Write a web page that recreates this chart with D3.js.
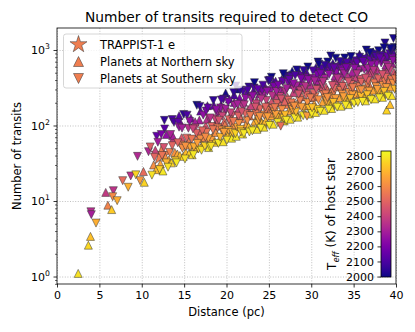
<!DOCTYPE html>
<html>
<head>
<meta charset="utf-8">
<script src="https://cdn.jsdelivr.net/npm/d3@7"></script>
<style>
body { margin: 0; background: #fff; }
text { font-family: "DejaVu Sans", sans-serif; fill: #000; }
</style>
</head>
<body>
<script>
// [distance (pc), number of transits, Teff of host star (K)]
var trappist = [[12.35, 41, 2566]];

var northern = [
  [2.5,1.1,2790],[3.7,2.6,2770],[3.95,3.4,2720],[5.75,13,2380],[6.0,8.8,2580],[6.45,7.7,2740],[10.2,24.6,2520],[10.3,17.7,2760],
  [11.4,30,2610],[11.7,26,2710],[11.6,47,2410],
  [12.2,31,2660],[12.5,25,2800],[12.8,38,2610],[12.9,76,2250],
  [13.2,35,2690],[13.5,32,2760],[13.7,66,2400],[13.9,44,2620],[13.65,73,2300],[14.4,135,2120],
  [14.2,42,2670],[14.5,40,2720],[14.7,69,2460],[14.9,39,2760],
  [15.2,44,2710],[15.4,55,2620],[15.6,43,2750],[15.8,125,2200],[15.95,41,2780],
  [16.2,50,2700],[16.4,56,2650],[16.6,72,2560],[16.8,118,2300],[16.95,155,2150],
  [17.15,56,2720],[17.35,69,2600],[17.55,99,2450],[17.75,183,2110],[17.9,51,2800],
  [18.15,63,2710],[18.35,71,2650],[18.55,60,2750],[18.75,81,2610],[18.5,185,2150],[18.9,114,2460],
  [19.15,64,2760],[19.35,187,2200],[19.55,99,2550],[19.75,113,2500],[19.6,61,2790],[19.9,269,2010],
  [20.15,77,2710],[20.35,224,2150],[20.55,74,2750],[20.75,99,2610],[20.6,68,2800],[20.9,201,2250],
  [21.15,72,2800],[21.35,160,2400],[21.55,232,2200],[21.75,123,2560],[21.9,77,2790],[21.2,305,2000],
  [22.15,93,2700],[22.35,105,2650],[22.55,163,2450],[22.75,91,2750],[22.4,271,2150],[22.9,183,2400],[22.6,97,2720],
  [23.15,94,2760],[23.35,114,2670],[23.55,214,2350],[23.75,130,2620],[23.6,89,2790],[23.9,263,2250],
  [24.15,111,2710],[24.35,104,2750],[24.55,326,2150],[24.75,196,2450],[24.4,95,2790],[24.9,180,2500],[24.6,115,2700],
  [25.15,111,2760],[25.35,135,2660],[25.55,379,2100],[25.75,255,2350],[25.5,104,2790],[25.9,235,2400],[25.2,146,2600],
  [26.15,130,2700],[26.35,146,2650],[26.5,407,2090],[26.65,227,2450],[26.95,189,2560],[26.8,115,2790],[26.2,199,2500],
  [27.15,129,2760],[27.35,157,2660],[27.55,349,2250],[27.75,524,2000],[27.5,121,2790],[27.9,272,2400],[27.2,237,2450],
  [28.15,150,2710],[28.35,141,2750],[28.55,513,2050],[28.75,240,2500],[28.4,129,2790],[28.9,384,2250],[28.6,315,2350],
  [29.15,149,2760],[29.35,181,2660],[29.45,503,2100],[29.65,281,2450],[29.95,233,2550],[29.8,142,2790],[29.7,185,2650],
  [30.15,173,2700],[30.35,193,2650],[30.55,588,2050],[30.75,364,2350],[30.5,149,2790],[30.9,334,2400],[30.6,393,2300],
  [31.15,170,2760],[31.35,206,2660],[31.55,458,2250],[31.75,323,2450],[31.5,159,2790],[31.9,295,2500],[31.2,525,2150],
  [32.15,196,2700],[32.35,183,2750],[32.55,668,2050],[32.75,413,2350],[32.4,168,2790],[32.9,379,2400],[32.8,452,2300],
  [33.15,192,2760],[33.35,234,2660],[33.55,473,2300],[33.75,364,2450],[33.5,180,2790],[33.9,333,2500],[33.2,639,2100],
  [34.15,222,2700],[34.35,207,2750],[34.55,752,2050],[34.75,465,2350],[34.4,189,2790],[34.9,426,2400],[34.8,509,2300],
  [35.15,216,2760],[35.35,263,2660],[35.55,581,2250],[35.7,875,2030],[35.95,775,2060],[35.3,436,2400],[35.8,269,2650],
  [36.15,248,2700],[36.35,231,2750],[36.55,842,2050],[36.75,520,2350],[36.4,212,2790],[36.9,477,2400],[36.8,623,2250],
  [37.15,242,2760],[37.35,293,2660],[37.55,592,2300],[37.75,456,2450],[37.5,225,2790],[37.9,416,2500],[37.2,747,2150],
  [38.15,276,2700],[38.35,257,2750],[38.55,936,2050],[38.75,578,2350],[38.4,236,2790],[38.9,530,2400],[38.8,632,2300],[38.9,160,2760],
  [39.15,268,2760],[39.35,325,2660],[39.55,657,2300],[39.75,506,2450],[39.5,250,2790],[39.9,462,2500],[39.2,830,2150],[39.3,190,2720],
  [14.6,107,2200],[15.5,62,2560],[16.3,112,2300],[17.0,84,2500],[17.7,121,2350],[18.6,100,2500],[19.2,155,2300],[19.8,102,2560],
  [20.4,133,2450],[20.9,253,2100],[21.5,134,2500],[22.0,203,2300],[22.7,134,2560],[23.2,291,2150],[23.7,180,2450],[24.3,271,2250],
  [24.8,160,2560],[25.3,205,2450],[25.8,386,2100],[26.4,293,2300],[26.9,210,2500],[27.4,473,2050],[27.9,202,2560],[28.4,339,2300],
  [28.9,242,2500],[29.3,463,2150],[29.9,344,2350],[30.3,239,2560],[30.8,437,2250],[31.3,314,2450],[31.8,586,2100],[32.3,271,2560],
  [32.9,541,2200],[33.4,324,2500],[33.9,724,2050],[34.3,453,2350],[34.8,315,2560],[35.3,673,2150],[35.8,410,2450],[36.3,606,2250],
  [36.8,352,2560],[37.3,946,2000],[37.8,550,2350],[38.3,425,2500],[38.7,809,2150],[39.2,400,2560],[39.7,914,2100]
];

var southern = [
  [4.0,7.2,2340],[4.05,6.6,2300],[4.6,5.1,2680],[6.65,13.7,2360],[6.57,11.4,2600],[7.1,10.1,2680],[7.75,18.6,2520],[8.4,15.2,2690],
  [8.7,21.5,2350],[9.3,22.2,2760],[9.8,18.6,2640],[9.5,39,2330],[10.8,45,2320],[11.0,52,2480],
  [11.76,72,2150],[12.7,90,2130],[12.67,117,2050],[13.6,120,2100],
  [11.2,22,2790],[11.5,38,2500],[11.9,60,2290],
  [12.1,26,2750],[12.4,40,2540],[12.6,51,2450],[12.9,32,2700],[12.3,76,2200],
  [13.1,28,2790],[13.3,44,2570],[13.6,54,2500],[13.8,110,2090],[13.4,76,2310],[13.95,34,2740],
  [14.1,32,2800],[14.3,110,2140],[14.6,55,2550],[14.8,50,2610],[14.4,95,2260],[14.95,140,2040],
  [15.1,36,2790],[15.3,68,2500],[15.5,92,2350],[15.7,52,2660],[15.9,66,2550],[15.35,137,2100],
  [16.1,41,2800],[16.3,93,2400],[16.5,185,2000],[16.7,49,2740],[16.9,66,2610],[16.45,79,2490],[16.15,52,2680],
  [17.05,47,2790],[17.25,137,2250],[17.45,53,2760],[17.65,81,2540],[17.85,67,2660],[17.95,124,2340],[17.6,155,2190],
  [18.05,52,2800],[18.25,97,2500],[18.45,214,2050],[18.65,122,2400],[18.85,149,2300],[18.95,93,2560],[18.2,53,2790],
  [19.05,58,2800],[19.25,70,2700],[19.45,87,2620],[19.65,224,2100],[19.85,152,2350],[19.95,84,2670],[19.3,171,2260],[19.5,133,2410],
  [20.05,64,2790],[20.25,86,2660],[20.45,109,2550],[20.65,136,2450],[20.85,274,2050],[20.95,184,2300],[20.3,119,2500],[20.7,81,2700],
  [21.05,78,2760],[21.1,334,2080],[21.25,95,2660],[21.45,106,2620],[21.65,89,2710],[21.85,184,2350],[21.95,280,2100],[21.4,133,2490],[21.7,82,2740],
  [22.05,78,2800],[22.25,228,2250],[22.45,116,2610],[22.65,323,2050],[22.85,136,2550],[22.95,221,2300],[22.7,82,2790],[22.2,143,2500],
  [23.05,85,2800],[23.25,314,2100],[23.45,143,2550],[23.65,106,2700],[23.85,285,2200],[23.95,166,2500],[23.3,369,2000],[23.5,193,2410],[23.8,119,2660],
  [24.05,92,2800],[24.25,247,2300],[24.45,138,2610],[24.65,158,2560],[24.85,130,2650],[24.95,392,2050],[24.7,214,2400],[24.2,293,2200],
  [25.05,100,2800],[25.25,293,2250],[25.45,168,2550],[25.65,151,2620],[25.85,127,2710],[25.95,195,2500],[25.3,435,2000],[25.6,328,2200],[25.8,140,2650],
  [26.05,109,2800],[26.25,289,2300],[26.4,98,2530],[26.55,162,2610],[26.75,125,2750],[26.85,454,2050],[26.3,242,2400],[26.6,382,2150],[26.9,138,2710],
  [27.05,117,2800],[27.25,371,2200],[27.45,196,2550],[27.65,176,2620],[27.85,147,2700],[27.95,301,2350],[27.3,216,2500],[27.6,442,2100],[27.8,162,2650],
  [28.05,126,2800],[28.25,335,2300],[28.45,186,2610],[28.65,213,2560],[28.85,175,2650],[28.95,453,2150],[28.7,288,2400],[28.2,151,2700],[28.3,545,2010],
  [29.05,135,2800],[29.25,428,2200],[29.5,133,2640],[29.55,201,2620],[29.75,168,2710],[29.85,374,2300],[29.4,251,2500],[29.6,596,2000],[29.2,299,2400],
  [30.05,144,2800],[30.25,421,2250],[30.45,241,2550],[30.65,164,2750],[30.85,219,2610],[30.95,517,2150],[30.3,266,2500],[30.7,471,2200],[30.1,172,2720],[30.8,693,2000],
  [31.05,154,2800],[31.25,567,2100],[31.45,257,2550],[31.65,230,2620],[31.85,193,2710],[31.95,694,2000],[31.3,343,2400],[31.6,420,2300],[31.8,212,2650],[31.7,261,2560],
  [32.05,164,2800],[32.25,520,2200],[32.45,242,2610],[32.65,277,2560],[32.85,227,2650],[32.95,500,2250],[32.7,310,2500],[32.2,601,2100],[32.6,202,2720],[32.3,834,2010],
  [33.05,175,2800],[33.25,597,2150],[33.45,291,2550],[33.65,260,2620],[33.85,218,2710],[33.95,784,2000],[33.3,388,2400],[33.6,565,2200],[33.8,240,2650],[33.7,523,2250],
  [34.05,185,2800],[34.25,540,2250],[34.45,273,2610],[34.65,312,2560],[34.85,255,2650],[34.95,660,2150],[34.7,349,2500],[34.2,679,2100],[34.6,227,2720],[34.3,588,2200],
  [35.05,197,2800],[35.25,622,2200],[35.45,327,2550],[35.65,292,2620],[35.75,409,2450],[35.85,244,2710],[35.5,202,2790],[35.9,374,2500],[35.6,532,2300],[35.2,719,2100],[35.4,677,2150],
  [36.05,208,2800],[36.25,552,2300],[36.45,306,2610],[36.65,349,2560],[36.85,285,2650],[36.95,737,2150],[36.7,391,2500],[36.2,760,2100],[36.6,255,2720],[36.3,659,2200],[36.5,999,2000],
  [37.05,220,2800],[37.25,805,2100],[37.45,365,2550],[37.65,326,2620],[37.85,272,2710],[37.95,979,2000],[37.3,487,2400],[37.6,707,2200],[37.8,300,2650],[37.7,654,2250],[37.4,881,2050],
  [38.05,232,2800],[38.25,673,2250],[38.45,340,2610],[38.65,388,2560],[38.7,1240,2020],[38.85,317,2650],[38.95,819,2150],[38.78,436,2500],[38.2,846,2100],[38.6,283,2720],[38.3,733,2200],
  [39.05,244,2800],[39.25,894,2100],[39.45,405,2550],[39.65,362,2620],[39.7,1420,2010],[39.85,302,2710],[39.3,541,2400],[39.6,784,2200],[39.8,1077,2000],[39.95,734,2250],[39.4,978,2050],
  [14.25,59,2500],[14.75,92,2300],[15.15,53,2620],[15.65,113,2250],[16.05,90,2400],[16.55,58,2650],[16.85,179,2050],[17.15,85,2500],
  [17.5,70,2600],[17.8,171,2150],[18.1,126,2350],[18.4,88,2550],[18.8,162,2250],[19.1,117,2450],[19.4,218,2100],[19.7,81,2650],[19.9,166,2300],
  [20.2,204,2200],[20.5,147,2400],[20.8,113,2550],[21.3,191,2300],[21.6,294,2050],[21.8,152,2450],[22.1,188,2350],[22.5,293,2100],[22.8,135,2560],
  [23.1,246,2250],[23.4,175,2450],[23.7,303,2150],[23.9,131,2620],[24.1,224,2350],[24.3,342,2100],[24.6,175,2500],[24.8,283,2250],
  [25.1,397,2050],[25.4,248,2350],[25.7,172,2560],[25.9,282,2300],[26.1,341,2200],[26.45,224,2450],[26.7,485,2000],[26.95,280,2350],
  [27.1,308,2300],[27.4,405,2150],[27.7,199,2560],[27.9,358,2250],[28.1,458,2100],[28.5,260,2450],[28.8,415,2200],[28.0,180,2620],
  [29.1,534,2050],[29.3,330,2350],[29.65,404,2250],[29.9,232,2560],[30.2,529,2100],[30.4,388,2300],[30.6,300,2450],[30.9,649,2000],
  [31.1,484,2200],[31.4,380,2350],[31.6,629,2050],[31.9,234,2620],[32.1,474,2250],[32.5,338,2450],[32.7,577,2150],[32.9,779,2000],
  [33.1,422,2350],[33.4,703,2050],[33.7,329,2500],[33.9,483,2300],[34.1,582,2200],[34.4,379,2450],[34.7,819,2000],[34.9,317,2560],
  [35.1,567,2250],[35.4,482,2350],[35.7,803,2050],[35.9,296,2620],[36.1,704,2150],[36.4,424,2450],[36.7,566,2300],[36.9,926,2000],
  [37.1,633,2250],[37.35,537,2350],[37.65,822,2100],[37.9,416,2500],[38.1,784,2150],[38.4,472,2450],[38.6,1073,2000],[38.9,635,2300],
  [39.1,589,2350],[39.35,1053,2000],[39.65,723,2250],[39.9,414,2560]
];

var xTicks = [0, 5, 10, 15, 20, 25, 30, 35, 40];
var yTicks = [1, 10, 100, 1000];
var teffTicks = [2000, 2100, 2200, 2300, 2400, 2500, 2600, 2700, 2800];
var legendLabels = ["TRAPPIST-1 e", "Planets at Northern sky", "Planets at Southern sky"];

var width = 415, height = 332;
var plotLeft = 57, plotRight = 396, plotTop = 28, plotBottom = 284;

var svg = d3.select("body").append("svg").attr("width", width).attr("height", height);

var x = d3.scaleLinear().domain([0, 40]).range([plotLeft, plotRight]);
var y = d3.scaleLog().domain([0.796, 1955]).range([plotBottom, plotTop]);
var color = d3.scaleSequential(d3.interpolatePlasma).domain([1997, 2833]);

// grid
svg.append("g").attr("transform", "translate(0," + plotBottom + ")")
  .call(d3.axisBottom(x).tickValues(xTicks).tickSize(-(plotBottom - plotTop)).tickFormat(""))
  .call(g => g.select(".domain").remove())
  .selectAll("line").attr("stroke", "#b0b0b0").attr("stroke-width", 0.8).attr("stroke-dasharray", "1,1.6");
svg.append("g").attr("transform", "translate(" + plotLeft + ",0)")
  .call(d3.axisLeft(y).tickValues(yTicks).tickSize(-(plotRight - plotLeft)).tickFormat(""))
  .call(g => g.select(".domain").remove())
  .selectAll("line").attr("stroke", "#b0b0b0").attr("stroke-width", 0.8).attr("stroke-dasharray", "1,1.6");

svg.append("clipPath").attr("id", "plotclip")
  .append("rect").attr("x", plotLeft).attr("y", plotTop).attr("width", plotRight - plotLeft).attr("height", plotBottom - plotTop);

var pts = svg.append("g").attr("clip-path", "url(#plotclip)");

function tri(w, up) {
  var h = w;
  return up
    ? "M0," + (-h / 2) + "L" + (w / 2) + "," + (h / 2) + "L" + (-w / 2) + "," + (h / 2) + "Z"
    : "M0," + (h / 2) + "L" + (w / 2) + "," + (-h / 2) + "L" + (-w / 2) + "," + (-h / 2) + "Z";
}

pts.selectAll(".star").data(trappist).join("path")
  .attr("d", d3.symbol(d3.symbolStar, 140))
  .attr("transform", d => "translate(" + x(d[0]) + "," + y(d[1]) + ")")
  .attr("fill", d => color(d[2])).attr("stroke", "#333").attr("stroke-width", 0.5);

pts.selectAll(".north").data(northern).join("path")
  .attr("d", tri(8, true))
  .attr("transform", d => "translate(" + x(d[0]) + "," + y(d[1]) + ")")
  .attr("fill", d => color(d[2])).attr("stroke", "#333").attr("stroke-width", 0.5);

pts.selectAll(".south").data(southern).join("path")
  .attr("d", tri(8, false))
  .attr("transform", d => "translate(" + x(d[0]) + "," + y(d[1]) + ")")
  .attr("fill", d => color(d[2])).attr("stroke", "#333").attr("stroke-width", 0.5);

// frame
svg.append("rect").attr("x", plotLeft).attr("y", plotTop).attr("width", plotRight - plotLeft).attr("height", plotBottom - plotTop)
  .attr("fill", "none").attr("stroke", "#000").attr("stroke-width", 0.8);

// x axis
var xa = svg.append("g").attr("transform", "translate(0," + plotBottom + ")")
  .call(d3.axisBottom(x).tickValues(xTicks).tickSize(3.5).tickPadding(3.5).tickSizeOuter(0));
xa.select(".domain").remove();
xa.selectAll("line").attr("stroke-width", 0.8);
xa.selectAll("text").attr("font-size", 11).attr("font-family", "DejaVu Sans");

// y axis major
var ya = svg.append("g").attr("transform", "translate(" + plotLeft + ",0)")
  .call(d3.axisLeft(y).tickValues(yTicks).tickSize(3.5).tickFormat("").tickSizeOuter(0));
ya.select(".domain").remove();
ya.selectAll("line").attr("stroke-width", 0.8);
ya.selectAll(".tick").append("text")
  .attr("x", -7).attr("dy", "0.32em").attr("text-anchor", "end").attr("font-size", 11)
  .attr("font-family", "DejaVu Sans").attr("fill", "#000")
  .each(function(d) {
    var t = d3.select(this);
    t.append("tspan").text("10");
    t.append("tspan").attr("font-size", 7.7).attr("dy", "-0.6em").text(Math.round(Math.log10(d)));
  });

// y axis minor
var minor = y.ticks().filter(v => Math.abs(Math.log10(v) - Math.round(Math.log10(v))) > 1e-6);
var ym = svg.append("g").attr("transform", "translate(" + plotLeft + ",0)")
  .call(d3.axisLeft(y).tickValues(minor).tickSize(2).tickFormat("").tickSizeOuter(0));
ym.select(".domain").remove();
ym.selectAll("line").attr("stroke-width", 0.6);

// titles
svg.append("text").attr("x", (plotLeft + plotRight) / 2).attr("y", 22).attr("text-anchor", "middle")
  .attr("font-size", 13.8).text("Number of transits required to detect CO");
svg.append("text").attr("x", (plotLeft + plotRight) / 2).attr("y", 316).attr("text-anchor", "middle")
  .attr("font-size", 11.5).text("Distance (pc)");
svg.append("text").attr("transform", "translate(21," + ((plotTop + plotBottom) / 2) + ") rotate(-90)")
  .attr("text-anchor", "middle").attr("font-size", 11.5).text("Number of transits");

// legend
var lg = svg.append("g");
lg.append("rect").attr("x", 63.5).attr("y", 34).attr("width", 178.5).attr("height", 54).attr("rx", 2.5)
  .attr("fill", "#fff").attr("fill-opacity", 0.8).attr("stroke", "#cccccc").attr("stroke-width", 0.8);
var legendColor = color(trappist[0][2]);
var legendShapes = [d3.symbol(d3.symbolStar, 90)(), tri(10, true), tri(10, false)];
legendLabels.forEach(function(lab, i) {
  var yy = 44.5 + i * 17;
  lg.append("path").attr("d", legendShapes[i]).attr("transform", "translate(78.5," + yy + ")")
    .attr("fill", legendColor).attr("stroke", "#333").attr("stroke-width", 0.5);
  lg.append("text").attr("x", 100).attr("y", yy).attr("dy", "0.35em").attr("font-size", 11.5).text(lab);
});

// colorbar
var cbX = 381, cbW = 10, cbTop = 151, cbBottom = 277;
var cb = d3.scaleLinear().domain(color.domain()).range([cbBottom, cbTop]);
var grad = svg.append("defs").append("linearGradient").attr("id", "cbgrad")
  .attr("x1", 0).attr("y1", 1).attr("x2", 0).attr("y2", 0);
d3.range(0, 1.0001, 0.05).forEach(function(t) {
  grad.append("stop").attr("offset", t).attr("stop-color", d3.interpolatePlasma(t));
});
svg.append("rect").attr("x", cbX).attr("y", cbTop).attr("width", cbW).attr("height", cbBottom - cbTop)
  .attr("fill", "url(#cbgrad)").attr("stroke", "#000").attr("stroke-width", 0.8);
var ca = svg.append("g").attr("transform", "translate(" + cbX + ",0)")
  .call(d3.axisLeft(cb).tickValues(teffTicks).tickFormat(d3.format("d")).tickSize(3.5).tickPadding(3.5).tickSizeOuter(0));
ca.select(".domain").remove();
ca.selectAll("line").attr("stroke-width", 0.8);
ca.selectAll("text").attr("font-size", 11).attr("font-family", "DejaVu Sans");
var cl = svg.append("text").attr("transform", "translate(336," + ((cbTop + cbBottom) / 2) + ") rotate(-90)")
  .attr("text-anchor", "middle").attr("font-size", 12);
cl.append("tspan").text("T");
cl.append("tspan").attr("font-size", 8.4).attr("font-style", "italic").attr("dy", "0.3em").text("eff");
cl.append("tspan").attr("dy", "-0.3em").text(" (K) of host star");
</script>
</body>
</html>
